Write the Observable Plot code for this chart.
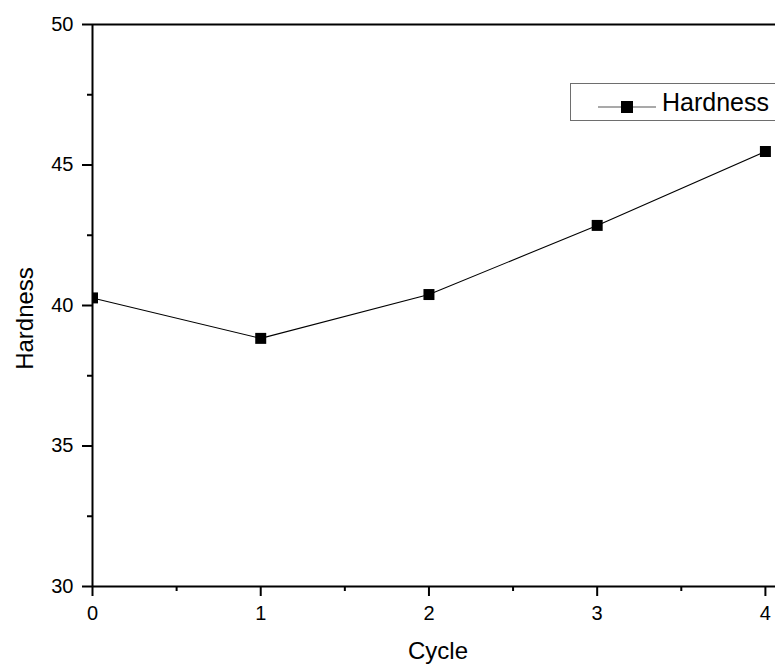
<!DOCTYPE html>
<html>
<head>
<meta charset="utf-8">
<script src="https://cdn.jsdelivr.net/npm/d3@7"></script>
<script src="https://cdn.jsdelivr.net/npm/@observablehq/plot@0.6"></script>
<style>
  html, body { margin: 0; padding: 0; background: #fff; overflow: hidden; }
  #wrap { position: relative; width: 775px; height: 666px; overflow: hidden; font-family: "Liberation Sans", Arial, sans-serif; }
  #wrap svg [aria-label$="axis tick"], #wrap svg [aria-label$="axis tick"] * { stroke-width: 2px !important; stroke: #000 !important; }
  #legend { position: absolute; left: 570px; top: 83px; width: 230px; height: 38px; border: 1px solid #6e6e6e; background: #fff; box-sizing: border-box; }
  #legend svg { position: absolute; left: 0; top: 0; }
  #legend span { position: absolute; left: 91px; top: 3px; font-size: 25px; line-height: 30px; color: #000; white-space: nowrap; }
</style>
</head>
<body>
<div id="wrap"></div>
<script>
const cycles = [0, 1, 2, 3, 4];
const hardness = [40.27, 38.83, 40.39, 42.85, 45.48];
const xTicks = [0, 1, 2, 3, 4];
const xMinorTicks = [0.5, 1.5, 2.5, 3.5];
const yTicks = [30, 35, 40, 45, 50];
const yMinorTicks = [32.5, 37.5, 42.5, 47.5];
const seriesName = "Hardness";
const xTitle = "Cycle";
const yTitle = "Hardness";

const data = cycles.map((c, i) => ({cycle: c, hardness: hardness[i]}));
const font = "Liberation Sans, Arial, sans-serif";

const chart = Plot.plot({
  width: 775,
  height: 666,
  marginTop: 24,
  marginBottom: 80,
  marginLeft: 92,
  marginRight: 0,
  style: {fontFamily: font, background: "#fff", color: "#000"},
  x: {domain: [0, 4.06]},
  y: {domain: [30, 50]},
  marks: [
    Plot.axisX({ticks: xTicks, tickSize: 10, tickPadding: 9, fontSize: 20, strokeWidth: 2, label: null, tickFormat: d => String(d)}),
    Plot.axisX({ticks: xMinorTicks, tickSize: 5, strokeWidth: 2, label: null, tickFormat: () => ""}),
    Plot.axisY({ticks: yTicks, tickSize: 10, tickPadding: 9, fontSize: 20, strokeWidth: 2, label: null, tickFormat: d => String(d)}),
    Plot.axisY({ticks: yMinorTicks, tickSize: 5, strokeWidth: 2, label: null, tickFormat: () => ""}),
    Plot.ruleY([30], {stroke: "#000", strokeWidth: 2}),
    Plot.ruleY([50], {stroke: "#000", strokeWidth: 2}),
    Plot.line(data, {x: "cycle", y: "hardness", stroke: "#000", strokeWidth: 1.1, clip: true}),
    Plot.dot(data, {x: "cycle", y: "hardness", symbol: "square", r: 6.2, fill: "#000", stroke: "none", clip: true}),
    Plot.ruleX([0], {stroke: "#000", strokeWidth: 2}),
    Plot.text([yTitle], {frameAnchor: "left", textAnchor: "middle", lineAnchor: "middle", dx: -67, dy: 13, rotate: -90, fontSize: 24, fill: "#000", text: d => d}),
    Plot.text([xTitle], {frameAnchor: "bottom", textAnchor: "middle", lineAnchor: "middle", dx: 4, dy: 65, fontSize: 24, fill: "#000", text: d => d})
  ]
});

const wrap = document.getElementById("wrap");
wrap.appendChild(chart);

const legend = document.createElement("div");
legend.id = "legend";
legend.innerHTML = `<svg width="90" height="38"><line x1="27" y1="23" x2="85" y2="23" stroke="#555" stroke-width="1.2"/><rect x="50" y="17" width="12" height="12" fill="#000"/></svg><span>${seriesName}</span>`;
wrap.appendChild(legend);
</script>
</body>
</html>
